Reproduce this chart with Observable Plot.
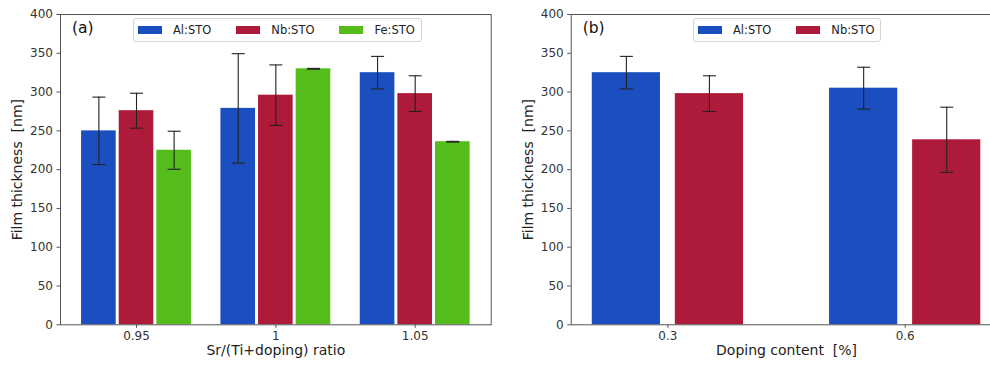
<!DOCTYPE html>
<html>
<head>
<meta charset="utf-8">
<script src="https://cdn.jsdelivr.net/npm/d3@7"></script>
<script src="https://cdn.jsdelivr.net/npm/@observablehq/plot@0.6"></script>
<style>
  html, body { margin: 0; padding: 0; background: #fff; }
  body { width: 990px; height: 367px; overflow: hidden; position: relative; font-family: "DejaVu Sans", sans-serif; }
  .panel { position: absolute; top: 0; }
  svg text { white-space: pre; }
  .legend { position: absolute; top: 18px; height: 24px; box-sizing: border-box; border: 1px solid #d4d4d4; border-radius: 3px;
            background: rgba(255,255,255,0.85); display: flex; align-items: center; font-size: 11.5px; color: #222; padding: 0 6px 0 4px; }
  .legend .sw { width: 24px; height: 8px; display: inline-block; margin-right: 11px; }
  .legend .item { display: flex; align-items: center; margin-right: 25px; }
  .legend .item:last-child { margin-right: 0; }
</style>
</head>
<body>
<script>
// ---- data ----
const ratioLabels = ["0.95", "1", "1.05"];
const alRatio = [250, 279, 325];
const alRatioErr = [43.5, 70.5, 21];
const nbRatio = [276, 296, 298];
const nbRatioErr = [22.5, 39, 23];
const feRatio = [225, 330, 236];
const feRatioErr = [24.5, 0.5, 0.5];

const dopingLabels = ["0.3", "0.6"];
const alDoping = [325, 305];
const alDopingErr = [21, 27];
const nbDoping = [298, 238.5];
const nbDopingErr = [23, 42];

const seriesNames = ["Al:STO", "Nb:STO", "Fe:STO"];
const colors = {"Al:STO": "#1b4fbf", "Nb:STO": "#ae1a3a", "Fe:STO": "#55bd1b"};
const yTicks = d3.range(0, 401, 50);

function rowsFor(series, width, offsets) {
  const rows = [];
  series.forEach(([name, vals, errs], s) => {
    vals.forEach((v, i) => rows.push({name, i, pos: i + offsets[s], w: width, v, e: errs[i]}));
  });
  return rows;
}

const capSymbol = {
  draw(context, size) {
    const r = Math.sqrt(size / Math.PI);
    context.moveTo(-r, 0);
    context.lineTo(r, 0);
  }
};

function panel({rows, labels, domain, width, marginLeft, xLabel, tag}) {
  return Plot.plot({
    width, height: 367,
    marginLeft, marginRight: 9.3, marginTop: 14, marginBottom: 42.7,
    style: {fontFamily: "DejaVu Sans", fontSize: "12px", color: "#333", maxWidth: "none", overflow: "visible", background: "white"},
    x: {domain, axis: null},
    y: {domain: [0, 400], axis: null},
    marks: [
      Plot.rectY(rows, {x1: d => d.pos - d.w / 2, x2: d => d.pos + d.w / 2, y1: 0, y2: "v",
        fill: d => colors[d.name], insetLeft: 1.5, insetRight: 1.5}),
      Plot.ruleX(rows, {x: "pos", y1: d => d.v - d.e, y2: d => d.v + d.e, stroke: "#222", strokeWidth: 1.1}),
      Plot.dot(rows, {x: "pos", y: d => d.v + d.e, symbol: capSymbol, r: 6.5, stroke: "#222", strokeWidth: 1.1, fill: "none"}),
      Plot.dot(rows, {x: "pos", y: d => d.v - d.e, symbol: capSymbol, r: 6.5, stroke: "#222", strokeWidth: 1.1, fill: "none"}),
      Plot.frame({stroke: "#555", strokeWidth: 1}),
      Plot.axisY({ticks: yTicks, tickSize: 3.5, tickPadding: 4, label: null, stroke: "#555", fontSize: 12}),
      Plot.axisX({ticks: d3.range(labels.length), tickFormat: i => labels[i], tickSize: 3.5, tickPadding: 3, label: null, stroke: "#555", fontSize: 12}),
      Plot.text([xLabel], {frameAnchor: "bottom", dy: 30, fontSize: 14, fill: "#222"}),
      Plot.text(["Film thickness  [nm]"], {frameAnchor: "left", dx: -43, rotate: -90, fontSize: 14, fill: "#222", textAnchor: "middle", lineAnchor: "middle"}),
      Plot.text([tag], {frameAnchor: "top-left", dx: 11.5, dy: 14, fontSize: 15.5, fill: "#111", textAnchor: "start", lineAnchor: "middle"})
    ]
  });
}

const rowsA = rowsFor([
  ["Al:STO", alRatio, alRatioErr],
  ["Nb:STO", nbRatio, nbRatioErr],
  ["Fe:STO", feRatio, feRatioErr]
], 0.27, [-0.27, 0, 0.27]);

const rowsB = rowsFor([
  ["Al:STO", alDoping, alDopingErr],
  ["Nb:STO", nbDoping, nbDopingErr]
], 0.3, [-0.175, 0.175]);

const pa = document.createElement("div");
pa.className = "panel"; pa.style.left = "0px"; pa.style.width = "500px";
pa.appendChild(panel({rows: rowsA, labels: ratioLabels, domain: [-0.5455, 2.5455], width: 500, marginLeft: 60,
  xLabel: "Sr/(Ti+doping) ratio", tag: "(a)"}));
document.body.appendChild(pa);

const pb = document.createElement("div");
pb.className = "panel"; pb.style.left = "500px"; pb.style.width = "512px";
pb.appendChild(panel({rows: rowsB, labels: dopingLabels, domain: [-0.4075, 1.4075], width: 510.7, marginLeft: 70.7,
  xLabel: "Doping content  [%]", tag: "(b)"}));
document.body.appendChild(pb);

function legend(left, names) {
  const lg = document.createElement("div");
  lg.className = "legend";
  lg.style.left = left + "px";
  names.forEach(n => {
    const it = document.createElement("div");
    it.className = "item";
    const sw = document.createElement("span");
    sw.className = "sw"; sw.style.background = colors[n];
    it.appendChild(sw);
    it.appendChild(document.createTextNode(n));
    lg.appendChild(it);
  });
  document.body.appendChild(lg);
}
legend(133, seriesNames);
legend(693, seriesNames.slice(0, 2));
</script>
</body>
</html>
